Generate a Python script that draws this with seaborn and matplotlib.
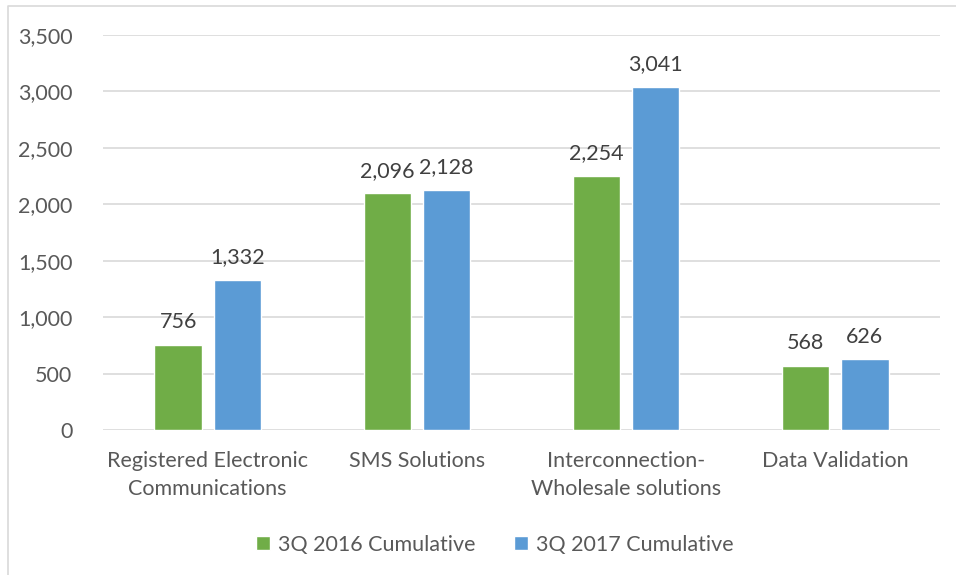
import matplotlib
matplotlib.use("Agg")
import matplotlib.pyplot as plt
import seaborn as sns
import pandas as pd
from matplotlib.lines import Line2D
from matplotlib.ticker import FuncFormatter, MultipleLocator

categories = ["Registered Electronic\nCommunications", "SMS Solutions",
              "Interconnection-\nWholesale solutions", "Data Validation"]
series_names = ["3Q 2016 Cumulative", "3Q 2017 Cumulative"]
values_2016 = [756, 2096, 2254, 568]
values_2017 = [1332, 2128, 3041, 626]
colors = ["#70AD47", "#5B9BD5"]

df = pd.DataFrame({
    "category": categories * 2,
    "series": [series_names[0]] * 4 + [series_names[1]] * 4,
    "value": values_2016 + values_2017,
})

sns.set_theme(style="white")
plt.rcParams["font.family"] = ["Lato", "DejaVu Sans"]

FS = 15.5
fig = plt.figure(figsize=(9.56, 5.75), dpi=100)
ax = fig.add_axes([103 / 956, 1 - 430 / 575, (940 - 103) / 956, (430 - 35) / 575])

sns.barplot(data=df, x="category", y="value", hue="series", palette=colors,
            width=0.565, gap=0.2, ax=ax, saturation=1, legend=True)

ax.set_ylim(0, 3500)
ax.set_xlim(-0.5, 3.5)
ax.yaxis.set_major_locator(MultipleLocator(500))
ax.yaxis.set_major_formatter(FuncFormatter(lambda v, p: f"{v:,.0f}"))
ax.grid(axis="y", color="#D9D9D9", linewidth=1.2)
ax.set_axisbelow(True)
for s in ax.spines.values():
    s.set_visible(False)
ax.set_xlabel("")
ax.set_ylabel("")
ax.tick_params(axis="y", length=0, pad=22, labelsize=FS, labelcolor="#595959")
ax.tick_params(axis="x", length=0, pad=15, labelsize=FS, labelcolor="#595959")
for lbl in ax.get_xticklabels():
    lbl.set_linespacing(1.5)

for cont in ax.containers:
    ax.bar_label(cont, labels=[f"{v:,.0f}" for v in cont.datavalues],
                 padding=9, fontsize=FS, color="#404040")

leg = ax.legend(loc="center", bbox_to_anchor=(0.468, -0.29), ncol=2,
                frameon=False, fontsize=FS, handlelength=0.65, handleheight=0.65,
                columnspacing=1.8, handletextpad=0.35)
for t in leg.get_texts():
    t.set_color("#595959")

fig.add_artist(Line2D([8 / 956, 8 / 956, 1.0], [0, 1 - 6 / 575, 1 - 6 / 575],
                      color="#D9D9D9", linewidth=1.2, transform=fig.transFigure))

fig.savefig("out.png", dpi=100)
